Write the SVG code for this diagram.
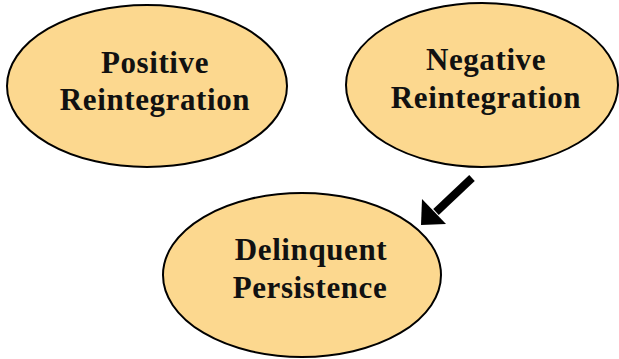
<svg xmlns="http://www.w3.org/2000/svg" width="619" height="359" viewBox="0 0 619 359">
<style>
.n{fill:#FCD88F;stroke:#000;stroke-width:2}
.t{font-family:"Liberation Serif","Times New Roman",serif;font-weight:bold;font-size:31px;fill:#111;text-anchor:middle;letter-spacing:0.6px}
</style>
<rect width="619" height="359" fill="#fff"/>
<g id="positive">
<ellipse class="n" cx="147" cy="86" rx="140" ry="81"/>
<text class="t" x="155" y="73">Positive</text>
<text class="t" x="155" y="110">Reintegration</text>
</g>
<g id="negative">
<ellipse class="n" cx="482" cy="85" rx="136" ry="82"/>
<text class="t" x="486" y="70">Negative</text>
<text class="t" x="486" y="108">Reintegration</text>
</g>
<g id="delinquent">
<ellipse class="n" cx="302" cy="275" rx="139" ry="82"/>
<text class="t" x="311" y="260">Delinquent</text>
<text class="t" x="310" y="298">Persistence</text>
</g>
<g id="connectors">
<line x1="472" y1="178" x2="436" y2="212" stroke="#000" stroke-width="8"/>
<polygon points="421,225 422,199 446,224" fill="#000"/>
</g>
</svg>
